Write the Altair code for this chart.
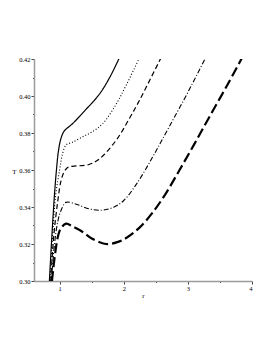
import altair as alt
import pandas as pd

# Curve readings (r, T)
solid_r = [0.84, 0.88, 0.92, 0.95, 0.98, 1.02, 1.07, 1.20, 1.39, 1.62, 1.78, 1.95]
solid_T = [0.300, 0.325, 0.347, 0.360, 0.370, 0.377, 0.381, 0.385, 0.392, 0.401, 0.410, 0.422]

dot_r = [0.85, 0.89, 0.94, 1.00, 1.04, 1.10, 1.20, 1.36, 1.50, 1.67, 1.88, 2.04, 2.25]
dot_T = [0.300, 0.325, 0.347, 0.360, 0.368, 0.3735, 0.375, 0.378, 0.3805, 0.385, 0.3955, 0.406, 0.421]

dash_r = [0.86, 0.91, 0.97, 1.02, 1.07, 1.13, 1.20, 1.46, 1.62, 1.88, 2.09, 2.25, 2.60]
dash_T = [0.300, 0.325, 0.343, 0.354, 0.359, 0.3615, 0.362, 0.363, 0.366, 0.376, 0.388, 0.398, 0.422]

dashdot_r = [0.87, 0.92, 0.97, 1.02, 1.10, 1.26, 1.46, 1.67, 1.85, 2.00, 2.20, 2.45, 2.71, 3.00, 3.28]
dashdot_T = [0.300, 0.320, 0.332, 0.338, 0.3425, 0.3415, 0.339, 0.3383, 0.3400, 0.3435, 0.3525, 0.367, 0.3835, 0.402, 0.421]

long_r = [0.88, 0.93, 0.98, 1.02, 1.10, 1.20, 1.36, 1.50, 1.72, 1.90, 2.05, 2.25, 2.45, 2.65, 2.87, 3.10, 3.34, 3.60, 3.85]
long_T = [0.300, 0.315, 0.325, 0.3285, 0.331, 0.3295, 0.3265, 0.323, 0.320, 0.321, 0.3235, 0.329, 0.337, 0.347, 0.360, 0.374, 0.389, 0.405, 0.421]

x_ticks = [1, 1.5, 2, 2.5, 3, 3.5, 4]
y_ticks = [0.30, 0.31, 0.32, 0.33, 0.34, 0.35, 0.36, 0.37, 0.38, 0.39, 0.40, 0.41, 0.42]

series = [
    (solid_r, solid_T, 1.2, [1, 0]),
    (dot_r, dot_T, 1.1, [1, 2]),
    (dash_r, dash_T, 1.2, [5, 3]),
    (dashdot_r, dashdot_T, 1.1, [5, 2, 1, 2]),
    (long_r, long_T, 2.2, [10, 4]),
]

xscale = alt.Scale(domain=[0.6, 4], nice=False, zero=False)
yscale = alt.Scale(domain=[0.30, 0.42], nice=False, zero=False)

xaxis = alt.Axis(
    values=x_ticks,
    labelExpr="datum.value % 1 == 0 ? format(datum.value, 'd') : ''",
    tickSize=alt.condition("datum.value % 1 == 0", alt.value(3), alt.value(1.5)),
    title="r",
    titleX=109, titleY=16, titleBaseline="alphabetic", titleAlign="center",
    grid=False,
)
yaxis = alt.Axis(
    values=y_ticks,
    labelExpr="round(datum.value*100) % 2 == 0 ? format(datum.value, '.2f') : ''",
    tickSize=alt.condition("round(datum.value*100) % 2 == 0", alt.value(3), alt.value(1.5)),
    title="T",
    titleAngle=0, titleX=-20, titleY=112, titleAlign="center", titleBaseline="middle",
    grid=False,
)

layers = []
for r, T, w, d in series:
    df = pd.DataFrame({"r": r, "T": T})
    layers.append(
        alt.Chart(df).mark_line(
            color="black", strokeWidth=w, strokeDash=d,
            interpolate="catmull-rom", clip=True,
        ).encode(
            x=alt.X("r:Q", scale=xscale, axis=xaxis),
            y=alt.Y("T:Q", scale=yscale, axis=yaxis),
        )
    )

chart = alt.layer(*layers).properties(
    width=218, height=222,
    autosize=alt.AutoSizeParams(type="none"),
    padding={"left": 26, "top": 51, "right": 10, "bottom": 40},
    background="white",
).configure_view(stroke=None).configure_axis(
    domainColor="#9a9a9a", domainWidth=1.5,
    tickColor="#444", tickWidth=1,
    labelFont="Liberation Serif", labelFontSize=6.5, labelColor="black",
    labelPadding=1,
    titleFont="Liberation Serif", titleFontSize=7, titleFontWeight="normal", titleColor="black",
)

chart.save("out.html", embed_options={"renderer": "svg", "actions": False})
